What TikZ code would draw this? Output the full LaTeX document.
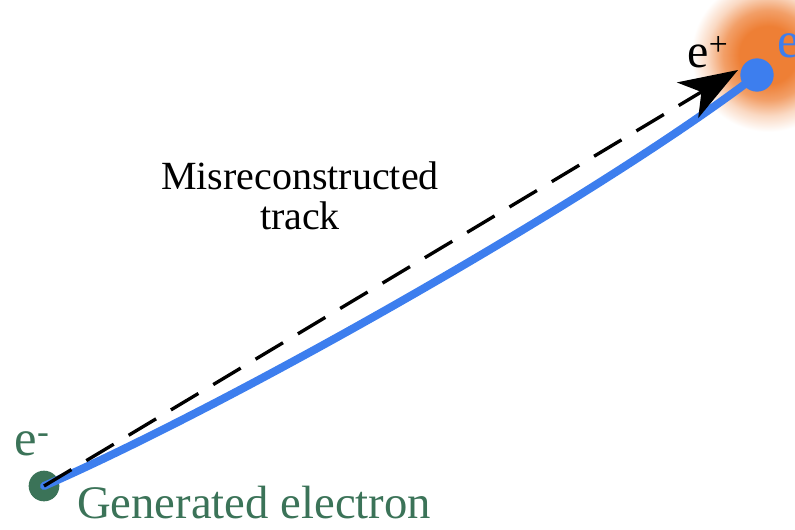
\documentclass[tikz,border=0pt]{standalone}
\usepackage{fontspec}
\setmainfont{Liberation Serif}
\usetikzlibrary{arrows.meta,shadings}
\definecolor{egreen}{HTML}{3B7358}
\definecolor{eblue}{HTML}{3D7EEE}
\definecolor{eorange}{HTML}{EE7F35}
\pgfdeclareradialshading{glow}{\pgfpoint{0bp}{0bp}}{color(0bp)=(eorange); color(9bp)=(eorange); color(14bp)=(eorange!75); color(19bp)=(eorange!30); color(24bp)=(white); color(50bp)=(white)}
\tikzset{
  track/.style={draw=eblue,line width=6pt,line cap=round},
  recotrack/.style={draw=black,line width=2.5pt,dash pattern=on 24pt off 13pt,-{Stealth[length=44pt,width=31pt,inset=12pt]}},
  dotnode/.style={circle,inner sep=0pt},
  lbl/.style={inner sep=0pt},
}
\begin{document}
\begin{tikzpicture}[x=0.75pt,y=-0.75pt]
\useasboundingbox (0,0) rectangle (795,529);
\begin{scope}
\clip (0,0) rectangle (795,529);
\shade[shading=glow] (768,55) circle (80);
\end{scope}
\node[dotnode,fill=egreen,minimum size=23pt] (g) at (44,486) {};
\node[dotnode,fill=eblue,minimum size=25pt] (b) at (757,75) {};
\draw[track] (g.center) .. controls (240,400) and (600,195) .. (b.center);
\coordinate (tip) at (738,70);
\draw[recotrack] (g.center) -- (tip);
\node[lbl,font=\fontsize{36}{40}\selectfont] (ep) at (708,52) {e\textsuperscript{+}};
\node[lbl,font=\fontsize{38}{42}\selectfont,text=eblue,anchor=west] (em) at (777,46) {e\textsuperscript{-}};
\node[lbl,font=\fontsize{38}{42}\selectfont,text=egreen] (eg) at (32,444) {e\textsuperscript{-}};
\node[lbl,font=\fontsize{35}{40}\selectfont,text=egreen] (gen) at (254,503) {Generated electron};
\node[lbl,font=\fontsize{30}{30}\selectfont,align=center] (mis) at (300,196) {Misreconstructed\\track};
\end{tikzpicture}
\end{document}
